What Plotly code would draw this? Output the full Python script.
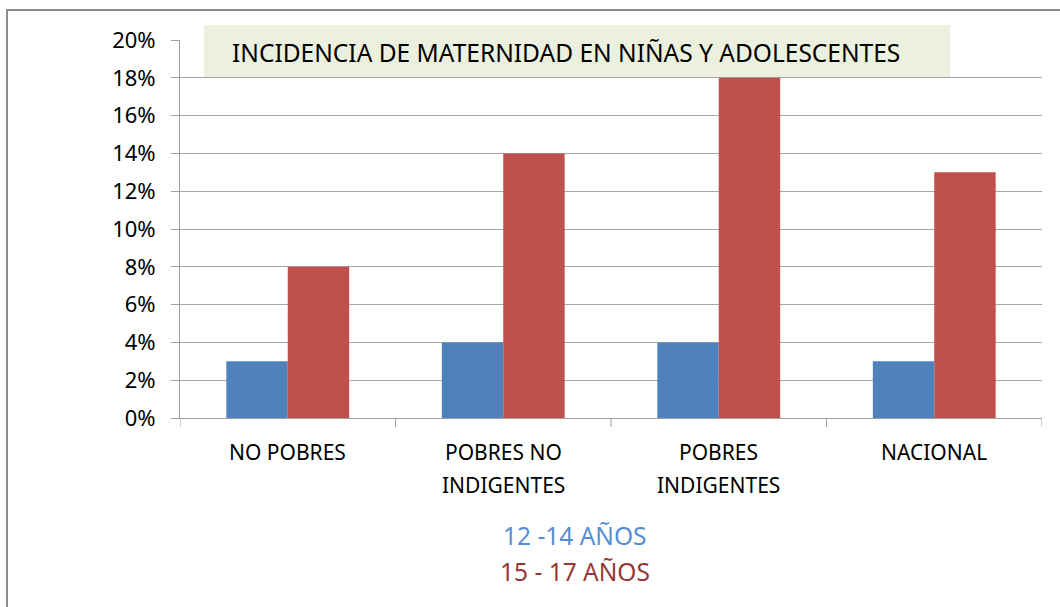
import plotly.graph_objects as go

categories = ["NO POBRES", "POBRES NO<br>INDIGENTES", "POBRES<br>INDIGENTES", "NACIONAL"]
series_names = ["12 -14 AÑOS", "15 - 17 AÑOS"]
values_12_14 = [3, 4, 4, 3]
values_15_17 = [8, 14, 18, 13]
y_ticks = [0, 2, 4, 6, 8, 10, 12, 14, 16, 18, 20]
y_tick_labels = [f"{v}%" for v in y_ticks]
title_text = "INCIDENCIA DE MATERNIDAD EN NIÑAS Y ADOLESCENTES"

FONT = "Noto Sans"
W, H = 1060, 607
L, R, T, B = 180, 18, 40, 189
PW, PH = W - L - R, H - T - B


def px_x(x):
    return (x - L) / PW


def px_y(y):
    return (H - B - y) / PH


fig = go.Figure()
fig.add_trace(go.Bar(x=list(range(len(categories))), y=values_12_14, name=series_names[0],
                     marker=dict(color="#4F81BD", line=dict(width=0))))
fig.add_trace(go.Bar(x=list(range(len(categories))), y=values_15_17, name=series_names[1],
                     marker=dict(color="#C0504D", line=dict(width=0))))

annotations = []
# category labels (one annotation per line for Excel-like line spacing)
for i, cat in enumerate(categories):
    for j, line in enumerate(cat.split("<br>")):
        annotations.append(dict(x=i, y=0, xref="x", yref="paper", text=line, showarrow=False,
                                yanchor="middle", xanchor="center", yshift=-(34 + 33 * j),
                                font=dict(family=FONT, size=21, color="#000000")))

# title
annotations.append(dict(x=px_x(566), y=px_y(52), xref="paper", yref="paper", text=title_text,
                        showarrow=False, xanchor="center", yanchor="middle",
                        font=dict(family=FONT, size=24.5, color="#000000")))

# legend-like colored texts
legend_colors = ["#558ED5", "#953735"]
legend_y = [535, 571]
for name, c, yy in zip(series_names, legend_colors, legend_y):
    annotations.append(dict(x=px_x(575), y=px_y(yy), xref="paper", yref="paper", text=name,
                            showarrow=False, xanchor="center", yanchor="middle",
                            font=dict(family=FONT, size=24.5, color=c)))

shapes = [
    # title box
    dict(type="rect", xref="paper", yref="paper", x0=px_x(204), x1=px_x(950), y0=px_y(77), y1=px_y(25),
         fillcolor="#EBF1DE", line=dict(width=0), layer="above"),
    # outer border
    dict(type="rect", xref="paper", yref="paper", x0=px_x(7), x1=px_x(1075), y0=px_y(625), y1=px_y(10),
         fillcolor="rgba(0,0,0,0)", line=dict(color="#8C8C8C", width=2), layer="above"),
]
# category separator ticks on x axis
for k in range(len(categories) + 1):
    shapes.append(dict(type="line", xref="x", yref="paper", x0=k - 0.5, x1=k - 0.5,
                       y0=0, y1=px_y(427), line=dict(color="#A0A0A0", width=1)))

fig.update_layout(
    width=W, height=H,
    margin=dict(l=L, r=R, t=T, b=B),
    paper_bgcolor="white", plot_bgcolor="white",
    barmode="group", bargap=0.43, bargroupgap=0,
    showlegend=False,
    annotations=annotations,
    shapes=shapes,
    xaxis=dict(range=[-0.5, len(categories) - 0.5], showticklabels=False, ticks="",
               showgrid=False, zeroline=False, showline=True, linecolor="#A0A0A0", linewidth=1),
    yaxis=dict(range=[0, 20], tickvals=y_ticks, ticktext=y_tick_labels, ticks="outside",
               ticklen=8, tickcolor="#A0A0A0", showgrid=True, gridcolor="#A6A6A6", gridwidth=1,
               zeroline=False, showline=True, linecolor="#A0A0A0", linewidth=1,
               tickfont=dict(family=FONT, size=22, color="#000000"), ticklabelstandoff=11),
)

fig.write_html("out.html", config={"displayModeBar": False},
               post_script="document.body.style.margin='0';document.body.style.overflow='hidden';")
